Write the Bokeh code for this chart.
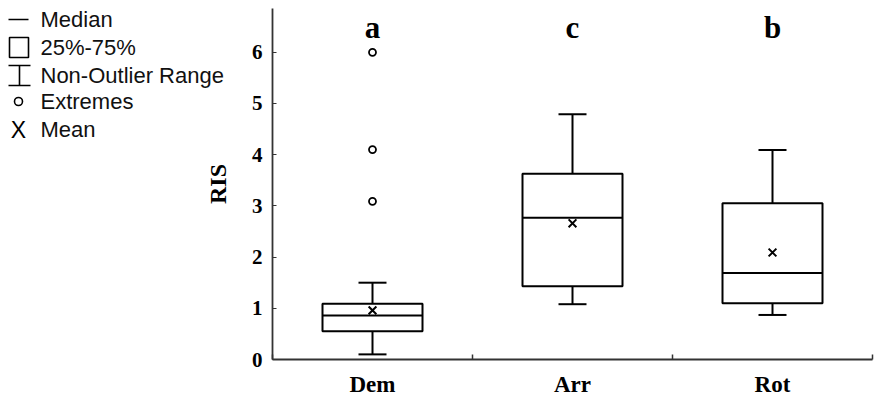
from bokeh.plotting import figure
from bokeh.models import Range1d, FixedTicker, Label, ColumnDataSource
from bokeh.core.properties import value
from bokeh.embed import file_html
from bokeh.resources import INLINE

# ---------------- data ----------------
categories = ["Dem", "Arr", "Rot"]
letters = ["a", "c", "b"]
q1 = [0.55, 1.43, 1.10]
medians = [0.86, 2.77, 1.69]
q3 = [1.09, 3.63, 3.05]
whisker_low = [0.10, 1.08, 0.87]
whisker_high = [1.50, 4.79, 4.09]
means = [0.96, 2.66, 2.09]
extreme_cats = ["Dem", "Dem", "Dem"]
extreme_vals = [6.00, 4.10, 3.09]
y_ticks = [0, 1, 2, 3, 4, 5, 6]
legend_labels = ["Median", "25%-75%", "Non-Outlier Range", "Extremes", "Mean"]

# ---------------- layout constants (pixels) ----------------
W, H = 875, 401
AXIS_X = 272      # x pixel of the value axis
AXIS_Y = 359      # y pixel of the category axis
AXIS_TOP = 8      # top end of value axis
AXIS_RIGHT = 872  # right end of category axis
BOX_W = 0.5
CAP_W = 0.14
LETTER_Y = 6.48
AXIS_YMAX = 6.855

SERIF = "Liberation Serif"
SANS = "Liberation Sans"

N = len(categories)
PX_PER_CAT = (AXIS_RIGHT - AXIS_X) / N
PX_PER_UNIT = (AXIS_Y - AXIS_TOP) / AXIS_YMAX
X_START = -AXIS_X / PX_PER_CAT
X_END = N + (W - AXIS_RIGHT) / PX_PER_CAT
Y_START = -(H - AXIS_Y) / PX_PER_UNIT
Y_END = AXIS_Y / PX_PER_UNIT

p = figure(width=W, height=H, output_backend="svg", toolbar_location=None,
           x_range=Range1d(X_START, X_END), y_range=Range1d(Y_START, Y_END),
           min_border_left=0, min_border_right=0,
           min_border_top=0, min_border_bottom=0,
           tools="")
p.outline_line_color = None
p.grid.visible = False
p.background_fill_color = "white"
p.border_fill_color = "white"

xc = [i + 0.5 for i in range(N)]
pos = {c: i + 0.5 for i, c in enumerate(categories)}

src = ColumnDataSource(dict(
    x=xc, left=[x - BOX_W / 2 for x in xc], right=[x + BOX_W / 2 for x in xc],
    cl=[x - CAP_W / 2 for x in xc], cr=[x + CAP_W / 2 for x in xc],
    q1=q1, q3=q3, med=medians, lo=whisker_low, hi=whisker_high, mean=means,
    letter=letters,
))

LW = 2
p.segment(x0="x", y0="q3", x1="x", y1="hi", source=src, line_color="black", line_width=LW)
p.segment(x0="x", y0="q1", x1="x", y1="lo", source=src, line_color="black", line_width=LW)
p.segment(x0="cl", y0="hi", x1="cr", y1="hi", source=src, line_color="black", line_width=LW)
p.segment(x0="cl", y0="lo", x1="cr", y1="lo", source=src, line_color="black", line_width=LW)
p.quad(left="left", right="right", bottom="q1", top="q3", source=src,
       fill_color="white", line_color="black", line_width=LW)
p.segment(x0="left", y0="med", x1="right", y1="med", source=src, line_color="black", line_width=LW)
p.scatter(x="x", y="mean", source=src, marker="x", size=11, line_color="black", line_width=2)
p.scatter(x=[pos[c] for c in extreme_cats], y=extreme_vals, marker="circle", size=7,
          fill_color="white", line_color="black", line_width=1.8)
p.text(x="x", y=LETTER_Y, text="letter", source=src, text_font=value(SERIF),
       text_font_style="bold", text_font_size="31px", text_align="center",
       text_baseline="alphabetic", text_color="black")

# ---------------- axes (pinned at the data origin) ----------------
AX_COL = "#333333"
xa = p.xaxis[0]
xa.fixed_location = 0
xa.bounds = (0, N)
xa.ticker = FixedTicker(ticks=xc, minor_ticks=list(range(N + 1)))
xa.major_label_overrides = {x: c for x, c in zip(xc, categories)}
xa.major_tick_in = 0
xa.major_tick_out = 0
xa.minor_tick_in = 5
xa.minor_tick_out = 0
xa.minor_tick_line_width = 1.5
xa.minor_tick_line_color = AX_COL
xa.major_label_text_font = SERIF
xa.major_label_text_font_style = "bold"
xa.major_label_text_font_size = "23px"
xa.major_label_text_color = "black"
xa.major_label_standoff = 12
xa.axis_line_width = 1.8
xa.axis_line_color = AX_COL

ya = p.yaxis[0]
ya.fixed_location = 0
ya.bounds = (0, AXIS_YMAX)
ya.ticker = FixedTicker(ticks=y_ticks)
ya.major_tick_in = 4
ya.major_tick_out = 0
ya.minor_tick_in = 0
ya.minor_tick_out = 0
ya.major_tick_line_width = 1.2
ya.major_tick_line_color = AX_COL
ya.major_label_text_font = SERIF
ya.major_label_text_font_style = "bold"
ya.major_label_text_font_size = "21px"
ya.major_label_text_color = "black"
ya.major_label_standoff = 10
ya.axis_label = "RIS"
ya.axis_label_text_font = SERIF
ya.axis_label_text_font_style = "bold"
ya.axis_label_text_font_size = "24px"
ya.axis_label_text_color = "black"
ya.axis_label_standoff = 18
ya.axis_line_width = 1.8
ya.axis_line_color = AX_COL

# ---------------- legend (left of the value axis) ----------------
def dx(px):
    return X_START + px / PX_PER_CAT

def dy(py):
    return (AXIS_Y - py) / PX_PER_UNIT

row_y = [19, 47, 75, 101, 129]
TEXT_X = 40
for lab, ry in zip(legend_labels, row_y):
    p.add_layout(Label(x=dx(TEXT_X), y=dy(ry), text=lab, text_font=SANS,
                       text_font_size="22px", text_baseline="middle", text_color="#111111"))

LEG_LW = 1.6
p.segment(x0=[dx(8)], y0=[dy(row_y[0])], x1=[dx(28)], y1=[dy(row_y[0])],
          line_color="black", line_width=LEG_LW)
p.quad(left=[dx(9)], right=[dx(28)], top=[dy(row_y[1] - 10)], bottom=[dy(row_y[1] + 10)],
       fill_color="white", line_color="black", line_width=LEG_LW)
p.segment(x0=[dx(19), dx(8), dx(8)],
          y0=[dy(row_y[2] - 10), dy(row_y[2] - 10), dy(row_y[2] + 10)],
          x1=[dx(19), dx(30), dx(30)],
          y1=[dy(row_y[2] + 10), dy(row_y[2] - 10), dy(row_y[2] + 10)],
          line_color="black", line_width=LEG_LW)
p.scatter(x=[dx(18)], y=[dy(row_y[3])], marker="circle", size=8,
          fill_color="white", line_color="black", line_width=1.6)
p.add_layout(Label(x=dx(18), y=dy(row_y[4]), text="X", text_font=SANS, text_font_size="23px",
                   text_align="center", text_baseline="middle", text_color="black"))

open("out.html", "w").write(file_html(p, INLINE))
